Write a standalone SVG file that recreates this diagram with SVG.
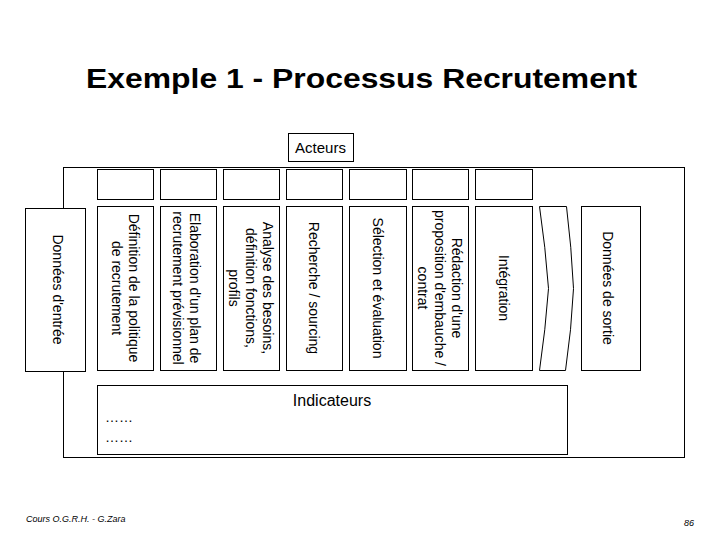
<svg xmlns="http://www.w3.org/2000/svg" width="720" height="540" viewBox="0 0 720 540">
<style>
  .box { fill: #ffffff; stroke: #000000; stroke-width: 1; }
  .frame { fill: none; stroke: #000000; stroke-width: 1; }
  .t { font-family: "Liberation Sans", Arial, sans-serif; fill: #000000; }
  .col { font-size: 14px; text-anchor: middle; }
  .title { font-size: 27px; font-weight: bold; }
  .foot { font-size: 9px; font-style: italic; }
</style>
<rect width="720" height="540" fill="#ffffff"/>

<text id="title" class="t title" x="86" y="87.5" textLength="551" lengthAdjust="spacingAndGlyphs">Exemple 1 - Processus Recrutement</text>

<g id="frame">
  <rect class="frame" x="63.5" y="167.5" width="621" height="290"/>
</g>

<g id="acteurs">
  <rect class="box" x="288.5" y="133.5" width="65" height="28"/>
  <text class="t" x="320.5" y="153" font-size="15" text-anchor="middle">Acteurs</text>
</g>

<g id="actor-boxes">
  <rect class="box" x="97.5" y="169.5" width="56" height="30"/>
  <rect class="box" x="160.5" y="169.5" width="56" height="30"/>
  <rect class="box" x="223.5" y="169.5" width="56" height="30"/>
  <rect class="box" x="286.5" y="169.5" width="56" height="30"/>
  <rect class="box" x="349.5" y="169.5" width="57" height="30"/>
  <rect class="box" x="412.5" y="169.5" width="56" height="30"/>
  <rect class="box" x="475.5" y="169.5" width="57" height="30"/>
</g>

<g id="donnees-entree">
  <rect class="box" x="25.5" y="208.5" width="60" height="163"/>
  <text class="t col" transform="translate(58,289.5) rotate(90)" y="5">Données d'entrée</text>
</g>

<g id="step1">
  <rect class="box" x="97.5" y="206.5" width="56" height="164"/>
  <text class="t col" transform="translate(125,288) rotate(90)"><tspan x="0" y="-3.5">Définition de la politique</tspan><tspan x="0" y="13.5">de recrutement</tspan></text>
</g>

<g id="step2">
  <rect class="box" x="160.5" y="206.5" width="56" height="164"/>
  <text class="t col" transform="translate(186,288) rotate(90)"><tspan x="0" y="-3.5">Elaboration d'un plan de</tspan><tspan x="0" y="13.5">recrutement prévisionnel</tspan></text>
</g>

<g id="step3">
  <rect class="box" x="223.5" y="206.5" width="56" height="164"/>
  <text class="t col" transform="translate(251,288) rotate(90)"><tspan x="0" y="-12">Analyse des besoins,</tspan><tspan x="0" y="5">définition fonctions,</tspan><tspan x="0" y="22">profils</tspan></text>
</g>

<g id="step4">
  <rect class="box" x="286.5" y="206.5" width="56" height="164"/>
  <text class="t col" transform="translate(314,288) rotate(90)" y="5">Recherche / sourcing</text>
</g>

<g id="step5">
  <rect class="box" x="349.5" y="206.5" width="57" height="164"/>
  <text class="t col" transform="translate(378,288) rotate(90)" y="5">Sélection et évaluation</text>
</g>

<g id="step6">
  <rect class="box" x="412.5" y="206.5" width="56" height="164"/>
  <text class="t col" transform="translate(440,288) rotate(90)"><tspan x="0" y="-12">Rédaction d'une</tspan><tspan x="0" y="5">proposition d'embauche /</tspan><tspan x="0" y="22">contrat</tspan></text>
</g>

<g id="step7">
  <rect class="box" x="475.5" y="206.5" width="57" height="164"/>
  <text class="t col" transform="translate(504,288) rotate(90)" y="5">Intégration</text>
</g>

<g id="chevron">
  <path class="box" d="M539.5,206.5 Q545.5,247 548.5,288.5 Q545.5,330 539.5,370.5 L565.5,370.5 Q571.5,330 573.5,288.5 Q571.5,247 566.5,206.5 Z"/>
</g>

<g id="donnees-sortie">
  <rect class="box" x="581.5" y="206.5" width="59" height="164"/>
  <text class="t col" transform="translate(608,288) rotate(90)" y="5">Données de sortie</text>
</g>

<g id="indicateurs">
  <rect class="box" x="97.5" y="385.5" width="470" height="69"/>
  <text class="t" x="332" y="405.5" font-size="16" text-anchor="middle">Indicateurs</text>
  <text class="t" x="105" y="422" font-size="14" fill="#555555">……</text>
  <text class="t" x="105" y="442" font-size="14" fill="#555555">……</text>
</g>

<g id="connectors"></g>

<g id="footer">
  <text class="t foot" x="26" y="522">Cours O.G.R.H. - G.Zara</text>
  <text class="t foot" x="684" y="526" font-size="10">86</text>
</g>
</svg>
